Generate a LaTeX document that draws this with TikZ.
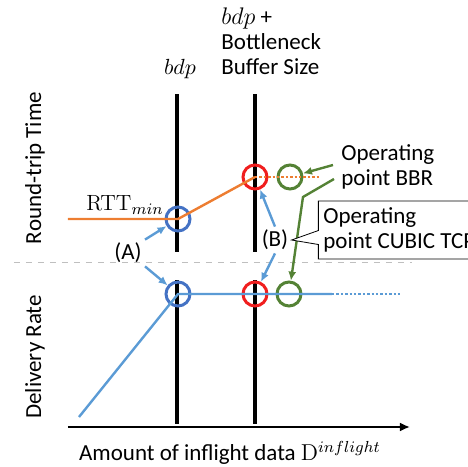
\documentclass[tikz,border=0pt]{standalone}
\usepackage{fontspec}
\setsansfont{Carlito}
\usetikzlibrary{arrows.meta}
\usetikzlibrary{shapes.callouts}

\definecolor{corange}{RGB}{237,125,49}
\definecolor{clight}{RGB}{91,155,213}
\definecolor{cblue}{RGB}{68,114,196}
\definecolor{cred}{RGB}{240,30,30}
\definecolor{cgreen}{RGB}{84,130,53}

\tikzset{
  opcirc/.style={circle, draw, line width=1.5pt, minimum size=12pt, inner sep=0pt},
  barline/.style={line width=2pt, black},
  lab/.style={font=\sffamily\fontsize{11.5}{12.5}\selectfont, inner sep=1.5pt},
  barrow/.style={clight, line width=1.2pt, -{Latex[length=4.5pt,width=4pt]}},
  garrow/.style={cgreen, line width=1.2pt, -{Latex[length=4.5pt,width=4pt]}},
}

\begin{document}
\begin{tikzpicture}[x=0.5pt,y=-0.5pt]
    \clip (0,0) rectangle (468,467);

    % separator and axis
    \draw[gray!50, dashed, thin] (14,262) -- (412,262);
    \draw[line width=1pt, -{Latex[length=5pt,width=4.5pt]}] (68,427) -- (410,427);

    % bdp and bdp+buffer
    \foreach \x in {177,255} {
      \draw[barline] (\x,94) -- (\x,252);
      \draw[barline] (\x,280) -- (\x,424);
    }

    % operating points
    \node[opcirc, draw=cblue] (ru) at (178,219) {};
    \node[opcirc, draw=cred] (rb) at (255,177) {};
    \node[opcirc, draw=cgreen] (rg) at (290,177) {};
    \node[opcirc, draw=cblue] (du) at (178,294) {};
    \node[opcirc, draw=cred] (db) at (255,294) {};
    \node[opcirc, draw=cgreen] (dg) at (289,294) {};

    \coordinate (rs) at (68,219);
    \coordinate (re) at (320,177);
    \coordinate (ds) at (79,417);
    \coordinate (dm) at (332,294);
    \coordinate (de) at (400,294);

    % round-trip time
    \draw[corange, line width=1.2pt] (rs) -- (ru.center) -- (rb.center);
    \draw[corange, line width=1.2pt, densely dotted] (rb.center) -- (re);
    % delivery rate
    \draw[clight, line width=1.2pt] (ds) -- (du.center) -- (dm);
    \draw[clight, line width=1.2pt, densely dotted] (dm) -- (de);

    % labels
    \node[lab, rotate=90] (rtt) at (35,168) {Round-trip Time};
    \node[lab, rotate=90] (rate) at (35,357) {Delivery Rate};
    \node[lab] (xl) at (230,453) {Amount of inflight data $\mathrm{D}^{inflight}$};
    \node[font=\fontsize{11}{13}\selectfont] (bdp) at (180,69) {$bdp$};
    \node[lab, align=left, anchor=north west] (buf) at (218,4) {$bdp$ +\\Bottleneck\\Buffer Size};
    \node[font=\fontsize{11}{13}\selectfont] (rmin) at (125,205) {RTT$_{min}$};

    \node[lab] (a) at (128,253) {(A)};
    \node[lab] (b) at (275,240) {(B)};
    \draw[barrow] (a.north east) -- (ru);
    \draw[barrow] (a.south east) -- (du);
    \draw[barrow] (b.north) -- (rb);
    \draw[barrow] (b.south) -- (db);

    \node[lab, align=left, anchor=west] (bbr) at (338,167) {Operating\\point BBR};
    \coordinate (g1) at (333,165);
    \coordinate (g2) at (334,179);
    \coordinate (g3) at (303,197);
    \draw[garrow] (g1) -- (rg);
    \draw[garrow] (g2) -- (g3) -- (dg);

    \node[lab, rectangle callout, draw, fill=white, align=left, anchor=west,
          callout absolute pointer={(b.east)}, callout pointer width=7pt,
          inner sep=2.5pt, minimum height=29pt] (cubic) at (318,230)
          {Operating\\point CUBIC TCP};
\end{tikzpicture}
\end{document}
